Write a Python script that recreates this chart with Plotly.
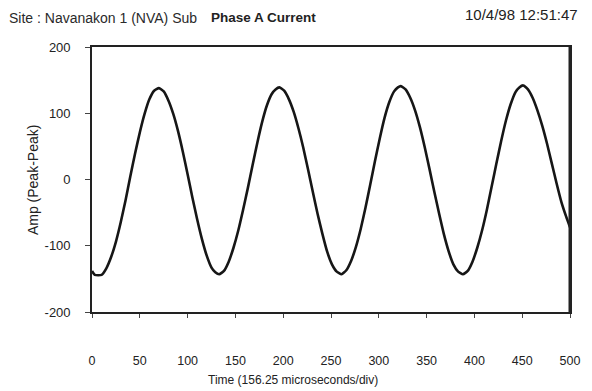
import plotly.graph_objects as go

# Time samples (div units) and current amplitude (Peak-Peak)
time_pts = [0, 3, 10, 15, 20, 25, 30, 35, 40, 45, 50, 55, 60, 65, 70,
            75, 80, 85, 90, 95, 100, 105, 110, 115, 120, 125, 129, 133,
            138, 143, 148, 153, 158, 163, 168, 173, 178, 183, 188, 192, 196,
            201, 206, 211, 216, 221, 226, 231, 236, 241, 246, 251, 256, 261,
            266, 271, 276, 281, 286, 291, 296, 301, 306, 311, 316, 320, 323,
            328, 333, 338, 343, 348, 353, 358, 363, 368, 373, 378, 383, 388,
            393, 398, 403, 408, 413, 418, 423, 428, 433, 438, 443, 447, 451,
            456, 461, 466, 471, 476, 481, 486, 491, 496, 500]
amp_vals = [-138, -144, -144, -134, -117, -94, -65, -32, 4, 39, 71, 99, 121, 134, 138,
            133, 119, 99, 73, 42, 8, -27, -60, -90, -115, -133, -140, -143,
            -138, -124, -103, -77, -46, -13, 22, 56, 87, 112, 129, 136, 139,
            134, 121, 102, 77, 48, 15, -19, -52, -82, -109, -128, -139, -143,
            -137, -123, -102, -75, -43, -8, 28, 62, 93, 117, 133, 139, 141,
            136, 123, 104, 79, 49, 16, -18, -51, -82, -108, -128, -139, -143,
            -138, -124, -103, -77, -46, -11, 24, 58, 89, 114, 132, 139, 142,
            136, 123, 104, 81, 54, 24, -6, -34, -56, -72]

x_ticks = [0, 50, 100, 150, 200, 250, 300, 350, 400, 450, 500]
y_ticks = [-200, -100, 0, 100, 200]
y_tick_text = ["-200", "-100", "0", "100", "200"]

site_text = "Site : Navanakon 1 (NVA) Sub"
phase_text = "Phase A Current"
date_text = "10/4/98 12:51:47"
x_title = "Time (156.25 microseconds/div)"
y_title = "Amp (Peak-Peak)"

W, H = 592, 391
L, R, T, B = 92, 13, 47, 79
pw, ph = W - L - R, H - T - B

def px(xp):
    return (xp - L) / pw

def py(yp):
    return (H - B - yp) / ph

fig = go.Figure()
fig.add_trace(go.Scatter(
    x=time_pts, y=amp_vals, mode="lines",
    line=dict(color="#161616", width=2.6, shape="spline", smoothing=0.5),
    hoverinfo="skip", showlegend=False))

font_main = "Liberation Sans, Arial, sans-serif"

fig.update_layout(
    width=W, height=H,
    margin=dict(l=L, r=R, t=T, b=B, pad=0),
    paper_bgcolor="white", plot_bgcolor="white",
    font=dict(family=font_main, color="#222222"),
    xaxis=dict(range=[0, 500], tickvals=x_ticks, ticks="outside", ticklen=4,
               tickwidth=1, tickcolor="#444", showgrid=False, zeroline=False,
               showline=True, linecolor="#222", linewidth=1.6, mirror=True,
               tickfont=dict(size=12.5, color="#222"), ticklabelstandoff=32),
    yaxis=dict(range=[-200, 200], tickvals=y_ticks, ticktext=y_tick_text,
               ticks="outside", ticklen=5,
               tickwidth=1, tickcolor="#444", showgrid=False, zeroline=False,
               showline=True, linecolor="#222", linewidth=1.6, mirror=True,
               tickfont=dict(size=13, color="#222"), ticklabelstandoff=12),
)

# thicker right border as in the scan
fig.add_shape(type="line", xref="x", yref="paper", x0=500, x1=500, y0=0, y1=1,
              line=dict(color="#222", width=3))

ann = [
    dict(text=site_text, x=px(5), y=py(18), xanchor="left", yanchor="middle",
         font=dict(size=14, color="#2a2a2a")),
    dict(text="<b>" + phase_text + "</b>", x=px(211), y=py(17), xanchor="left",
         yanchor="middle", font=dict(size=13.5, color="#222")),
    dict(text=date_text, x=px(589), y=py(14), xanchor="right", yanchor="middle",
         font=dict(size=15, color="#222")),
    dict(text=x_title, x=px(297), y=py(380), xanchor="center", yanchor="middle",
         font=dict(size=12, color="#222")),
    dict(text=y_title, x=px(32), y=py(180), xanchor="center", yanchor="middle",
         textangle=-90, font=dict(size=14, color="#222")),
]
for a in ann:
    fig.add_annotation(xref="paper", yref="paper", showarrow=False, **a)

fig.write_html("out.html")
